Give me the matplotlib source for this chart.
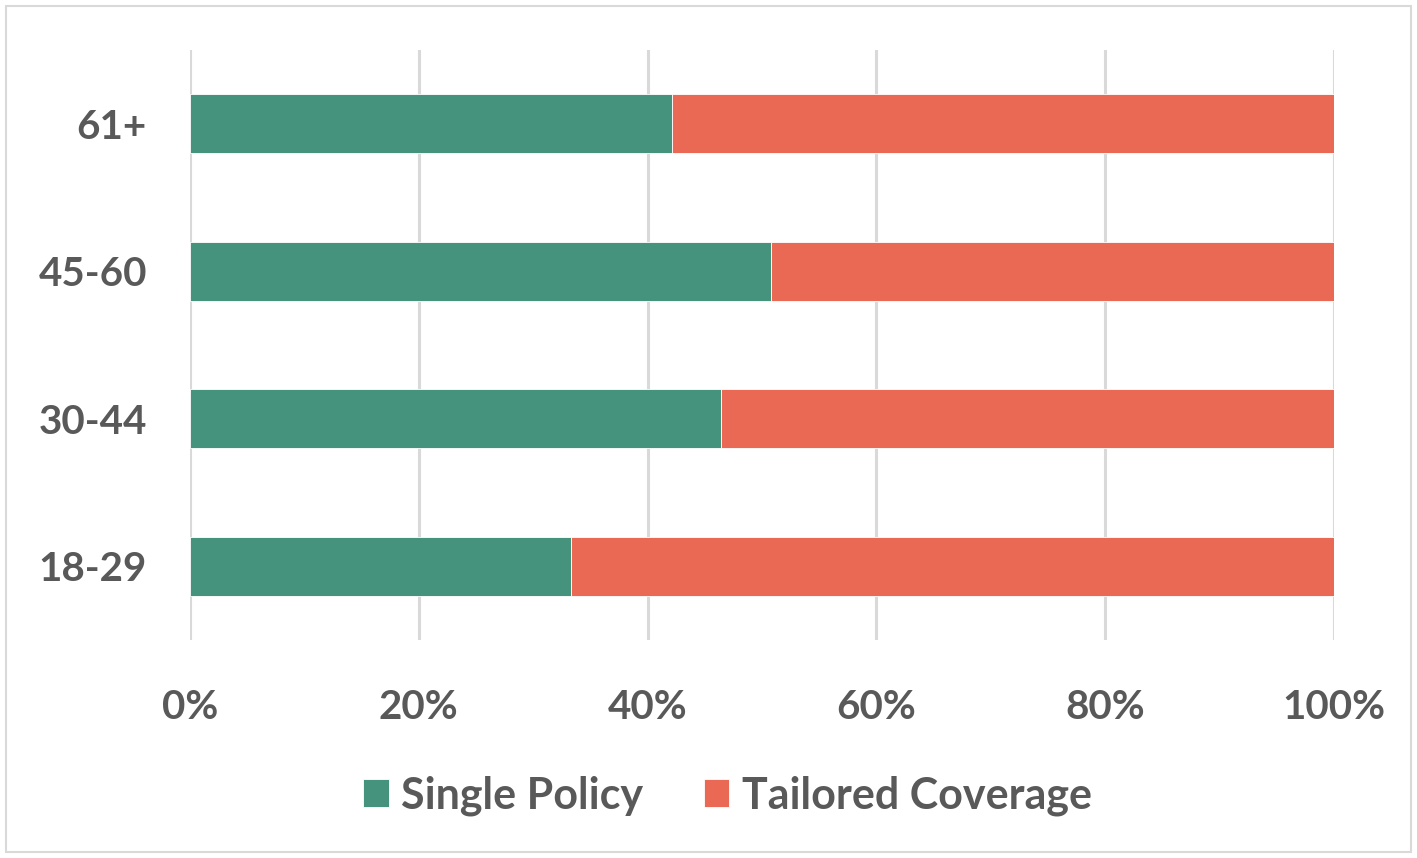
import matplotlib.pyplot as plt
from matplotlib.patches import Rectangle
from matplotlib.ticker import PercentFormatter

# share of respondents by age group
age_groups = ['18-29', '30-44', '45-60', '61+']
single_policy = [33.3, 46.4, 50.8, 42.1]
tailored_coverage = [66.7, 53.6, 49.2, 57.9]
x_ticks = [0, 20, 40, 60, 80, 100]

green = '#45937C'
coral = '#E96955'
text_gray = '#595959'

plt.rcParams['font.family'] = ['Lato', 'DejaVu Sans']
plt.rcParams['font.weight'] = 'bold'

fig = plt.figure(figsize=(14.17, 8.58), dpi=100)
ax = fig.add_axes([0.1341, 0.2541, 0.8073, 0.6876])

ax.barh(age_groups, single_policy, height=0.4, color=green,
        edgecolor='white', linewidth=0.6, label='Single Policy', zorder=3)
ax.barh(age_groups, tailored_coverage, left=single_policy, height=0.4,
        color=coral, edgecolor='white', linewidth=0.6,
        label='Tailored Coverage', zorder=3)

ax.set_xlim(0, 100)
ax.set_ylim(-0.5, 3.5)
ax.set_xticks(x_ticks)
ax.xaxis.set_major_formatter(PercentFormatter(decimals=0))
ax.grid(axis='x', color='#D9D9D9', linewidth=2.2, zorder=0)
for s in ax.spines.values():
    s.set_visible(False)
ax.tick_params(axis='both', length=0, labelsize=29, labelcolor=text_gray)
ax.tick_params(axis='x', pad=35)
ax.tick_params(axis='y', pad=31)

leg = fig.legend(loc='center', bbox_to_anchor=(0.5134, 0.073), ncol=2,
                 frameon=False, fontsize=31, labelcolor=text_gray,
                 handlelength=0.6, handleheight=0.6, handletextpad=0.28,
                 columnspacing=1.4)

# light frame around the whole chart
fig.patches.append(Rectangle((0.004, 0.007), 0.992, 0.986, transform=fig.transFigure,
                             fill=False, edgecolor='#D9D9D9', linewidth=1.5))

fig.savefig('out.png', dpi=100)
